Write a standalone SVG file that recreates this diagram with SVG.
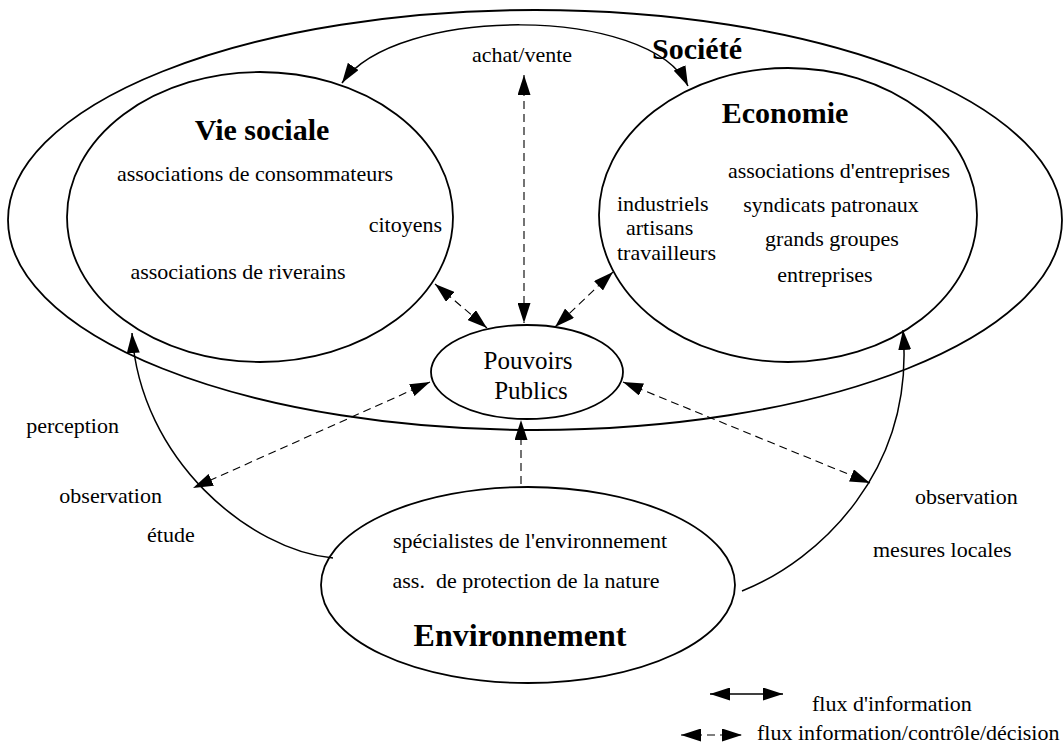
<svg xmlns="http://www.w3.org/2000/svg" width="1064" height="743" viewBox="0 0 1064 743">
<style>
.node{fill:none;stroke:#000;stroke-width:1.8}
.t{font-family:"Liberation Serif","Times New Roman",serif;font-size:22px;fill:#000}
.b{font-family:"Liberation Serif","Times New Roman",serif;font-size:30px;font-weight:bold;fill:#000}
.m{text-anchor:middle}
.e{text-anchor:end}
.solid{fill:none;stroke:#000;stroke-width:1.5}
.dash{fill:none;stroke:#000;stroke-width:1.1;stroke-dasharray:8 5}
</style>
<defs>
<marker id="ah" markerUnits="userSpaceOnUse" viewBox="0 0 20 13" markerWidth="20" markerHeight="13" refX="20" refY="6.5" orient="auto-start-reverse">
<path d="M0,0 L20,6.5 L0,13 z" fill="#000" stroke="none"/>
</marker>
</defs>
<rect width="1064" height="743" fill="#fff"/>
<g id="societe">
<ellipse class="node" cx="535" cy="220" rx="527" ry="210"/>
<text class="b" x="652" y="59">Société</text>
</g>
<g id="vie-sociale">
<ellipse class="node" cx="260" cy="217" rx="193" ry="145"/>
<text class="b m" x="262" y="140">Vie sociale</text>
<text class="t m" x="255" y="181">associations de consommateurs</text>
<text class="t e" x="442" y="232">citoyens</text>
<text class="t m" x="238" y="279">associations de riverains</text>
</g>
<g id="economie">
<ellipse class="node" cx="788" cy="215" rx="189" ry="147"/>
<text class="b m" x="785" y="123">Economie</text>
<text class="t m" x="839" y="178">associations d'entreprises</text>
<text class="t m" x="831" y="212">syndicats patronaux</text>
<text class="t m" x="832" y="246">grands groupes</text>
<text class="t m" x="825" y="282">entreprises</text>
<text class="t" x="617" y="211">industriels</text>
<text class="t" x="626" y="235">artisans</text>
<text class="t" x="617" y="260">travailleurs</text>
</g>
<g id="pouvoirs-publics">
<ellipse class="node" cx="527" cy="372" rx="96" ry="47"/>
<text class="t m" x="528" y="369" style="font-size:25px">Pouvoirs</text>
<text class="t m" x="531" y="399" style="font-size:25px">Publics</text>
</g>
<g id="environnement">
<ellipse class="node" cx="528" cy="585" rx="207" ry="98"/>
<text class="t m" x="530" y="548">spécialistes de l'environnement</text>
<text class="t m" x="526" y="588" style="white-space:pre">ass.  de protection de la nature</text>
<text class="b m" x="520" y="646" style="font-size:32px">Environnement</text>
</g>
<g id="connectors">
<path class="solid" d="M342,83 C395,5 650,5 688,86" marker-start="url(#ah)" marker-end="url(#ah)"/>
<path class="solid" d="M333,558 C250,550 140,460 132,333" marker-end="url(#ah)"/>
<path class="solid" d="M742,591 C820,560 915,470 903,330" marker-end="url(#ah)"/>
<path class="dash" d="M524,75 L524,323" marker-start="url(#ah)" marker-end="url(#ah)"/>
<path class="dash" d="M435,284 L487,328" marker-start="url(#ah)" marker-end="url(#ah)"/>
<path class="dash" d="M613,272 L555,327" marker-start="url(#ah)" marker-end="url(#ah)"/>
<path class="dash" d="M430,382 L193,488" marker-start="url(#ah)" marker-end="url(#ah)"/>
<path class="dash" d="M623,382 L870,483" marker-start="url(#ah)" marker-end="url(#ah)"/>
<path class="dash" d="M521,484 L521,420" marker-end="url(#ah)"/>
</g>
<g id="labels">
<text class="t m" x="522" y="62">achat/vente</text>
<text class="t e" x="119" y="433">perception</text>
<text class="t e" x="162" y="503">observation</text>
<text class="t" x="147" y="542">étude</text>
<text class="t" x="915" y="504">observation</text>
<text class="t" x="873" y="557">mesures locales</text>
</g>
<g id="legend">
<path class="solid" d="M710,694 L783,694" marker-start="url(#ah)" marker-end="url(#ah)"/>
<path class="dash" d="M681,735 L742,735" marker-start="url(#ah)" marker-end="url(#ah)"/>
<text class="t" x="812" y="711">flux d'information</text>
<text class="t" x="757" y="740">flux information/contrôle/décision</text>
</g>
</svg>
